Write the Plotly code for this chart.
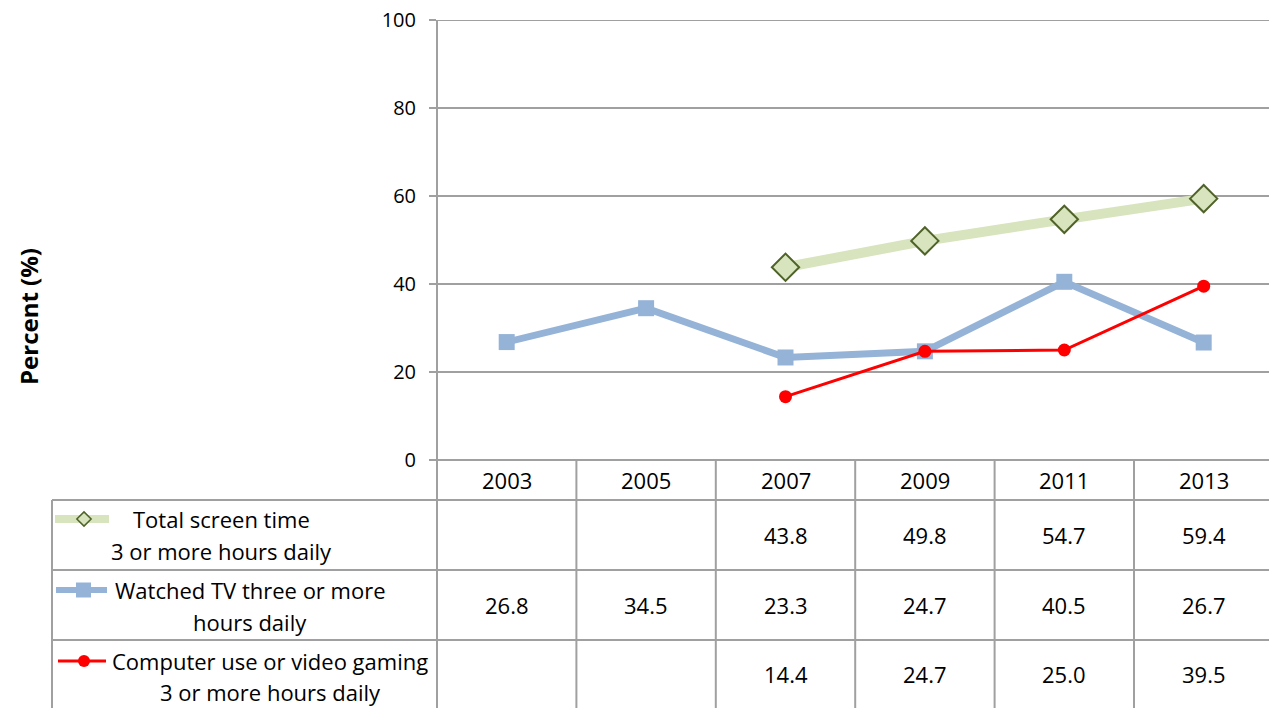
import plotly.graph_objects as go

# ---------------- data ----------------
years = ["2003", "2005", "2007", "2009", "2011", "2013"]
total_screen = [None, None, 43.8, 49.8, 54.7, 59.4]
watched_tv = [26.8, 34.5, 23.3, 24.7, 40.5, 26.7]
computer_gaming = [None, None, 14.4, 24.7, 25.0, 39.5]
series_names = [
    ["Total screen time", "3 or more hours daily"],
    ["Watched TV three or more", "hours daily"],
    ["Computer use or video gaming", "3 or more hours daily"],
]
y_ticks = [0, 20, 40, 60, 80, 100]

# ---------------- layout geometry ----------------
# body margin is removed in the page, so figure coords = window coords
OFF = 0
W, H = 1269 - OFF, 708 - OFF

def X(px):
    return px - OFF

def Y(py):
    return py - OFF

PL, PT, PB = X(437), Y(20), Y(460)   # plot left / top / bottom
CAT_W = 139.4
FONT = "Open Sans"
GRID = "#A0A0A0"
TXT = "#000000"

green_line = "#D7E4BD"
green_edge = "#4F6228"
blue = "#95B3D7"
red = "#FF0000"

xidx = list(range(len(years)))

fig = go.Figure()

fig.add_trace(go.Scatter(
    x=xidx, y=total_screen, mode="lines+markers",
    line=dict(color=green_line, width=10),
    marker=dict(symbol="diamond", size=21, color=green_line,
                line=dict(color=green_edge, width=2)),
    showlegend=False, hoverinfo="skip", cliponaxis=False))
fig.add_trace(go.Scatter(
    x=xidx, y=watched_tv, mode="lines+markers",
    line=dict(color=blue, width=7),
    marker=dict(symbol="square", size=16, color=blue, line=dict(width=0)),
    showlegend=False, hoverinfo="skip", cliponaxis=False))
fig.add_trace(go.Scatter(
    x=xidx, y=computer_gaming, mode="lines+markers",
    line=dict(color=red, width=3),
    marker=dict(symbol="circle", size=13, color=red, line=dict(width=0)),
    showlegend=False, hoverinfo="skip", cliponaxis=False))

# ---------------- table ----------------
shapes = []
row_lines = [500, 570, 640]
row_centers = [535, 605, 674]
line_pairs = [(519, 551), (590, 622), (661, 692)]
text_centers = [221, 250, 270]
tbl_left = 52

for ry in row_lines:
    shapes.append(dict(type="line", xref="x2", yref="y2",
                       x0=X(tbl_left), x1=W + 2, y0=Y(ry), y1=Y(ry),
                       line=dict(color=GRID, width=2)))
shapes.append(dict(type="line", xref="x2", yref="y2",
                   x0=X(tbl_left), x1=X(tbl_left), y0=Y(row_lines[0]), y1=H + 2,
                   line=dict(color=GRID, width=2)))
for i in range(1, len(years)):
    bx = i - 0.5
    shapes.append(dict(type="line", xref="x", yref="y2",
                       x0=bx, x1=bx, y0=PB, y1=H + 2,
                       line=dict(color=GRID, width=2)))
# y axis line continued through the table, x axis line with zero tick
shapes.append(dict(type="line", xref="x2", yref="y2", x0=PL, x1=PL,
                   y0=PT, y1=H + 2, line=dict(color=GRID, width=2)))
shapes.append(dict(type="line", xref="x2", yref="y2", x0=PL - 7, x1=W + 2,
                   y0=PB, y1=PB, line=dict(color=GRID, width=2)))
# top gridline (edge of the value range)
shapes.append(dict(type="line", xref="x2", yref="y", x0=PL - 7, x1=W + 2,
                   y0=y_ticks[-1], y1=y_ticks[-1], line=dict(color=GRID, width=2),
                   layer="below"))

annotations = []
for i, yr in enumerate(years):
    annotations.append(dict(x=i, y=Y(480), xref="x", yref="y2", text=yr,
                            showarrow=False, xanchor="center", yanchor="middle",
                            font=dict(family=FONT, size=22, color=TXT)))

series_vals = [total_screen, watched_tv, computer_gaming]
for r, vals in enumerate(series_vals):
    for i, v in enumerate(vals):
        if v is None:
            continue
        annotations.append(dict(x=i, y=Y(row_centers[r]), xref="x", yref="y2",
                                text=f"{v:.1f}", showarrow=False,
                                xanchor="center", yanchor="middle",
                                font=dict(family=FONT, size=22, color=TXT)))
    for k, line in enumerate(series_names[r]):
        annotations.append(dict(x=X(text_centers[r]), y=Y(line_pairs[r][k]),
                                xref="x2", yref="y2", text=line,
                                showarrow=False, xanchor="center", yanchor="middle",
                                font=dict(family=FONT, size=22, color=TXT)))

# legend keys (line + marker), drawn on the full-canvas pixel axes
key_specs = [
    (55, 109, 519, green_line, 8, "diamond", 11, green_line, green_edge, 1.5),
    (56, 107, 590, blue, 6, "square", 15, blue, blue, 0),
    (58, 106, 661, red, 3, "circle", 12, red, red, 0),
]
for (x0, x1, ky, lc, lw, sym, ms, mc, mlc, mlw) in key_specs:
    fig.add_trace(go.Scatter(
        x=[X(x0), X(x1)], y=[Y(ky), Y(ky)], mode="lines",
        line=dict(color=lc, width=lw), xaxis="x2", yaxis="y2",
        showlegend=False, hoverinfo="skip"))
    fig.add_trace(go.Scatter(
        x=[X((x0 + x1) / 2 + 2)], y=[Y(ky)], mode="markers",
        marker=dict(symbol=sym, size=ms, color=mc, line=dict(color=mlc, width=mlw)),
        xaxis="x2", yaxis="y2", showlegend=False, hoverinfo="skip"))

annotations.append(dict(x=X(28), y=Y(317), xref="x2", yref="y2",
                        text="<b>Percent (%)</b>", textangle=-90, showarrow=False,
                        xanchor="center", yanchor="middle",
                        font=dict(family=FONT, size=24, color=TXT)))

fig.update_layout(
    width=W, height=H,
    margin=dict(l=0, r=0, t=0, b=0, pad=0, autoexpand=False),
    paper_bgcolor="white", plot_bgcolor="rgba(0,0,0,0)",
    font=dict(family=FONT, size=22, color=TXT),
    xaxis=dict(domain=[PL / W, 1], range=[-0.5, -0.5 + (W - PL) / CAT_W],
               showgrid=False, zeroline=False, showticklabels=False, ticks="",
               showline=False, fixedrange=True, anchor="y", automargin=False),
    yaxis=dict(domain=[(H - PB) / H, (H - PT) / H], range=[0, 100],
               tickvals=y_ticks, showgrid=True, gridcolor=GRID, gridwidth=2,
               zeroline=False, showline=False, ticks="outside", ticklen=7,
               tickcolor=GRID, tickwidth=2, ticklabelstandoff=9,
               ticklabeloverflow="allow",
               tickfont=dict(family=FONT, size=20, color=TXT),
               fixedrange=True, anchor="x", automargin=False),
    xaxis2=dict(domain=[0, 1], range=[0, W], visible=False, fixedrange=True,
                anchor="y2", automargin=False),
    yaxis2=dict(domain=[0, 1], range=[H, 0], visible=False, fixedrange=True,
                anchor="x2", automargin=False),
    shapes=shapes,
    annotations=annotations,
)

fig.write_html(
    "out.html",
    config={"displayModeBar": False, "staticPlot": True},
    post_script="document.body.style.margin='0px';document.body.style.overflow='hidden';",
)
